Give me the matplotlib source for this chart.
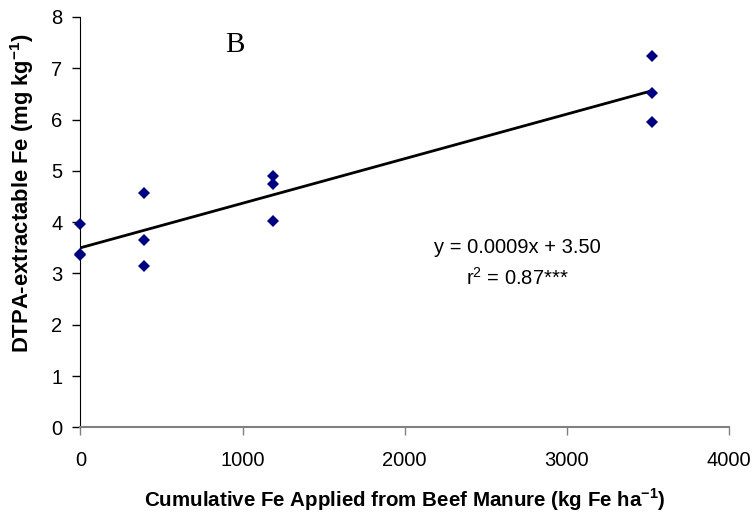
import numpy as np
import matplotlib
matplotlib.use("Agg")
from matplotlib import pyplot as plt

plt.rcParams['font.family'] = ['Liberation Sans', 'DejaVu Sans']

# cumulative Fe applied (kg Fe/ha) and DTPA Fe (mg/kg)
fe_applied = [0, 0, 0, 391, 391, 391, 1189, 1189, 1189, 3525, 3525, 3525]
dtpa_fe = [3.96, 3.38, 3.35, 4.56, 3.66, 3.14, 4.90, 4.74, 4.02, 7.24, 6.51, 5.95]

# regression line end points
line_x = [0, 3525]
line_y = [3.50, 6.56]

x_ticks = [0, 1000, 2000, 3000, 4000]
y_ticks = [0, 1, 2, 3, 4, 5, 6, 7, 8]

fig = plt.figure(figsize=(7.52, 5.13), dpi=100)
ax = fig.add_axes([0.107, 0.167, 0.862, 0.800])

ax.plot(line_x, line_y, color='black', lw=2, zorder=2)
ax.plot(fe_applied, dtpa_fe, 'D', color='#000080', markersize=6,
        markeredgewidth=0, zorder=3, clip_on=False)

ax.set_xlim(0, 4000)
ax.set_ylim(0, 8)
ax.set_xticks(x_ticks)
ax.set_yticks(y_ticks)
ax.tick_params(axis='both', direction='out', length=6, width=1,
               labelsize=14.5, pad=7)
ax.tick_params(axis='x', colors='#808080', labelcolor='black', pad=11)

for side in ['top', 'right']:
    ax.spines[side].set_visible(False)
ax.spines['left'].set_color('black')
ax.spines['bottom'].set_color('#808080')
ax.spines['bottom'].set_linewidth(1.5)

ax.set_xlabel('Cumulative Fe Applied from Beef Manure (kg Fe ha$^{\\mathregular{-1}}$)',
              fontsize=14.8, fontweight='bold')
ax.xaxis.set_label_coords(0.5, -0.145)
ax.set_ylabel('DTPA-extractable Fe (mg kg$^{\\mathregular{-1}}$)',
              fontsize=15.8, fontweight='bold')
ax.yaxis.set_label_coords(-0.068, 0.57)

ax.text(950, 7.45, 'B', family='Liberation Serif', fontsize=21,
        ha='center', va='center')
ax.text(2693, 3.5, 'y = 0.0009x + 3.50', fontsize=14.5, ha='center', va='center')
ax.text(2693, 2.91, 'r$^{\\mathregular{2}}$ = 0.87***', fontsize=14.5,
        ha='center', va='center')

plt.savefig('out.png', dpi=100)
